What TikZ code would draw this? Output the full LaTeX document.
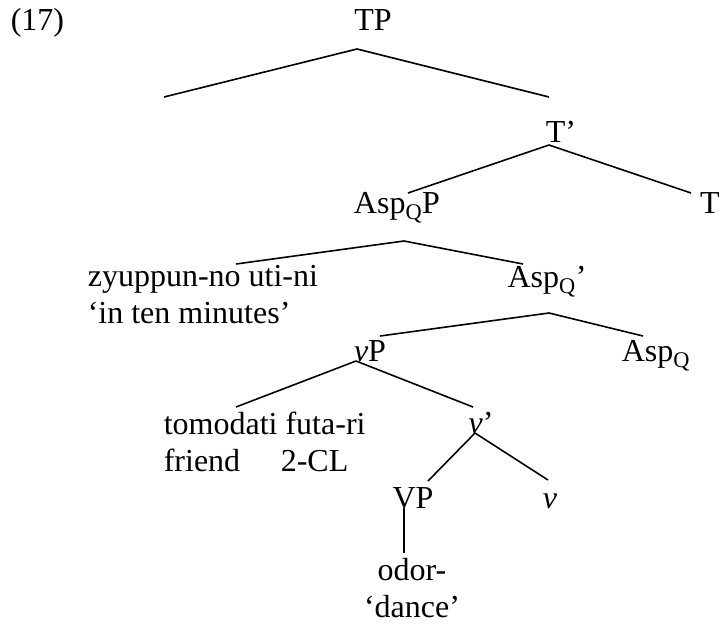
\documentclass[tikz,border=0pt]{standalone}
\usepackage{fontspec}
\setmainfont{Liberation Serif}

\begin{document}
\begin{tikzpicture}[x=1pt,y=-1pt,line width=1.6pt,
    every node/.style={inner sep=0pt,anchor=base,font=\fontsize{32}{37}\selectfont}]
    \useasboundingbox (0,0) rectangle (720,625);

    \node[anchor=base west] (ex) at (10,30) {(17)};

    % labels, placed by their (last) baselines
    \node (tp)      at (373,30)  {TP};
    \coordinate (spec) at (164,97);
    \node (tbar)    at (561,142) {T'};
    \node (t)       at (710,213) {T};
    \node (aspqp)   at (397,213) {Asp\textsubscript{Q}P};
    \node[anchor=base west,align=left] (adjunct) at (87,323)
        {zyuppun-no uti-ni\\`in ten minutes'};
    \node (aspqbar) at (547,287) {Asp\textsubscript{Q}'};
    \node (vp)      at (370,361) {\textit{v}P};
    \node (aspq)    at (656,361) {Asp\textsubscript{Q}};
    \node[anchor=base west,align=left] (subj) at (163,471)
        {tomodati futa-ri\\friend\hspace{40.6pt}2-CL};
    \node (vbar)    at (481,433) {\textit{v}'};
    \node (vph)     at (413,508) {VP};
    \node (vhead)   at (550,508) {\textit{v}};
    \node[align=center] (verb) at (412,617) {odor-\\`dance'};

    % branches
    \draw ([shift={(-16,19)}]tp.base) -- (spec);
    \draw ([shift={(-16,19)}]tp.base) -- ([shift={(-12,-45)}]tbar.base);
    \draw ([shift={(-12,3)}]tbar.base) -- ([shift={(11,-20)}]aspqp.base);
    \draw ([shift={(-12,3)}]tbar.base) -- ([shift={(-19,-20)}]t.base);
    \draw ([shift={(7,28)}]aspqp.base) -- ([shift={(149,-59)}]adjunct.base west);
    \draw ([shift={(7,28)}]aspqp.base) -- ([shift={(-24,-23)}]aspqbar.base);
    \draw ([shift={(2,26)}]aspqbar.base) -- ([shift={(10,-25)}]vp.base);
    \draw ([shift={(2,26)}]aspqbar.base) -- ([shift={(-13,-25)}]aspq.base);
    \draw ([shift={(-14,0)}]vp.base) -- ([shift={(73,-64)}]subj.base west);
    \draw ([shift={(-14,0)}]vp.base) -- ([shift={(-8,-26)}]vbar.base);
    \draw ([shift={(-6,0)}]vbar.base) -- ([shift={(15,-27)}]vph.base);
    \draw ([shift={(-6,0)}]vbar.base) -- ([shift={(-2,-28)}]vhead.base);
    \draw ([shift={(-9,0)}]vph.base) -- ([shift={(-8,-64)}]verb.base);
\end{tikzpicture}
\end{document}
